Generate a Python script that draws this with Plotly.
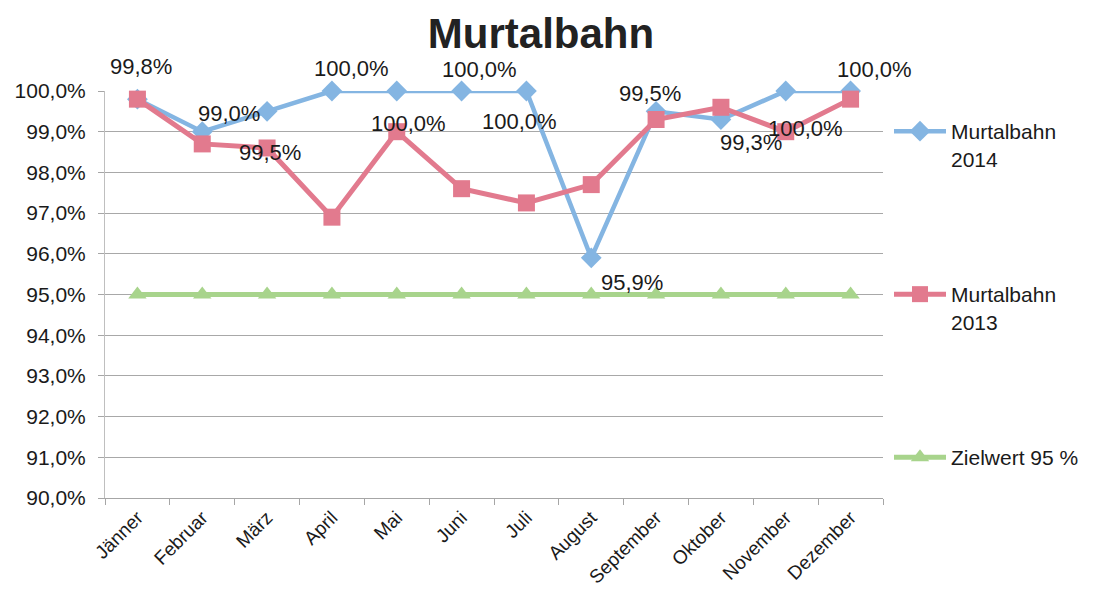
import plotly.graph_objects as go

months = ["Jänner", "Februar", "März", "April", "Mai", "Juni", "Juli",
          "August", "September", "Oktober", "November", "Dezember"]
murtal_2014 = [99.8, 99.0, 99.5, 100.0, 100.0, 100.0, 100.0, 95.9, 99.5, 99.3, 100.0, 100.0]
murtal_2013 = [99.8, 98.7, 98.6, 96.9, 99.0, 97.6, 97.25, 97.7, 99.3, 99.6, 99.0, 99.8]
zielwert = [95.0] * 12
y_ticks = [90, 91, 92, 93, 94, 95, 96, 97, 98, 99, 100]
y_tick_labels = ["90,0%", "91,0%", "92,0%", "93,0%", "94,0%", "95,0%",
                 "96,0%", "97,0%", "98,0%", "99,0%", "100,0%"]

# label offsets (pixels) for the 2014 data labels, as placed in the original
label_dx = [4, 27, 3, 20, 12, 18, -7, 41, -6, 30, 20, 24]
label_dy = [-33, -18, 41, -23, 32, -22, 30, 25, -18, 23, 37, -22]

BLUE = "#84B5E2"
RED = "#E27A8E"
GREEN = "#A8D48C"
FONT = "Liberation Sans, Arial, sans-serif"
TXT = "#1a1a1a"

# page body has an 8px margin; compensate so the chart lands where the original is
OFF = 8
W, H = 1086, 597
ML, MR, MT, MB = 97, 211, 83, 107

fig = go.Figure()
fig.add_trace(go.Scatter(
    x=months, y=zielwert, name="Zielwert 95 %", mode="lines+markers",
    line=dict(color=GREEN, width=5),
    marker=dict(symbol="triangle-up", size=16, color=GREEN),
    cliponaxis=False, legend="legend3"))
fig.add_trace(go.Scatter(
    x=months, y=murtal_2014, name="Murtalbahn<br>2014", mode="lines+markers",
    line=dict(color=BLUE, width=4.5),
    marker=dict(symbol="diamond", size=16, color=BLUE),
    cliponaxis=False, legend="legend"))
fig.add_trace(go.Scatter(
    x=months, y=murtal_2013, name="Murtalbahn<br>2013", mode="lines+markers",
    line=dict(color=RED, width=5),
    marker=dict(symbol="square", size=17, color=RED),
    cliponaxis=False, legend="legend2"))

for m, v, dx, dy in zip(months, murtal_2014, label_dx, label_dy):
    fig.add_annotation(
        x=m, y=v, xref="x", yref="y",
        text=f"{v:.1f}".replace(".", ",") + "%",
        showarrow=False, xshift=dx, yshift=-dy,
        font=dict(family=FONT, size=22, color=TXT))

legend_common = dict(
    font=dict(family=FONT, size=21, color=TXT),
    bgcolor="rgba(0,0,0,0)", xanchor="left", yanchor="top",
    xref="container", yref="container",
    itemwidth=52, valign="top", x=(889 - OFF) / W)

def ly(top_px):
    return 1.0 - (top_px - OFF) / H

fig.update_layout(
    width=W, height=H,
    paper_bgcolor="white", plot_bgcolor="white",
    margin=dict(l=ML, r=MR, t=MT, b=MB, autoexpand=False),
    title=dict(text="<b>Murtalbahn</b>", x=(541 - OFF) / W, xanchor="center",
               y=1 - (33 - OFF) / H, yanchor="middle",
               font=dict(family=FONT, size=42, color="#222222")),
    showlegend=True,
    legend=dict(**legend_common, y=ly(111)),
    legend2=dict(**legend_common, y=ly(274)),
    legend3=dict(**legend_common, y=ly(437)),
    xaxis=dict(
        type="category", range=[-0.5, 11.5],
        showgrid=False, showline=True, linecolor="#a6a6a6", linewidth=1,
        ticks="outside", ticklen=6, tickcolor="#a6a6a6",
        tickson="boundaries",
        tickangle=-45, tickfont=dict(family=FONT, size=19, color=TXT),
        zeroline=False),
    yaxis=dict(
        range=[90, 100], tickvals=y_ticks, ticktext=y_tick_labels,
        showgrid=True, gridcolor="#a8a8a8", gridwidth=1,
        showline=True, linecolor="#bfbfbf", linewidth=1,
        ticks="outside", ticklen=6, tickcolor="#a6a6a6",
        ticklabelstandoff=8,
        tickfont=dict(family=FONT, size=21, color=TXT),
        zeroline=False),
)

fig.write_html("out.html")
